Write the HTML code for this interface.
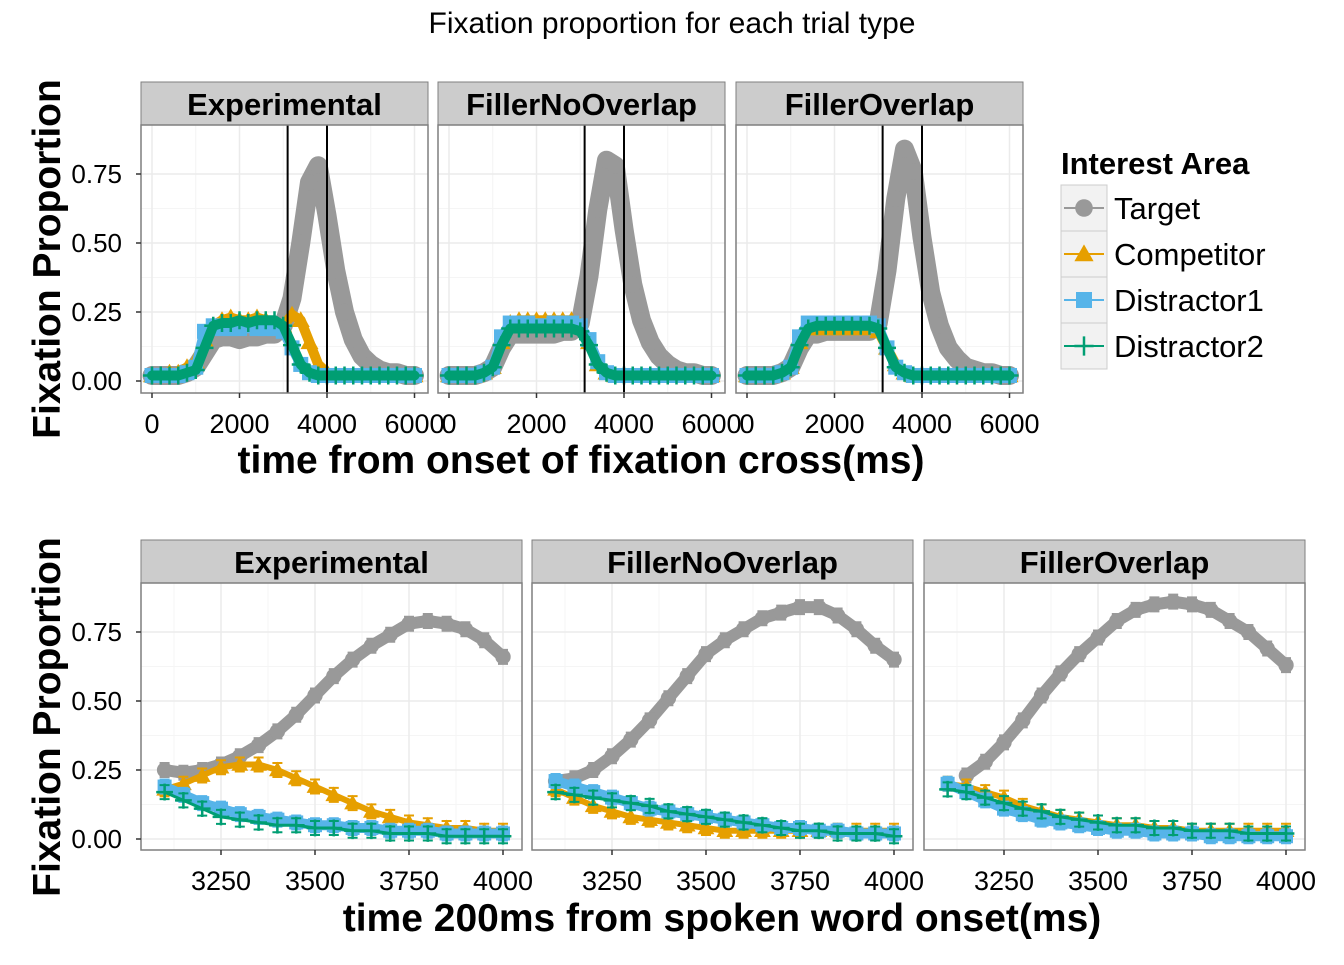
<!DOCTYPE html>
<html><head><meta charset="utf-8"><style>
body{margin:0;background:#fff;font-family:"Liberation Sans",Arial,sans-serif}
svg text{font-family:"Liberation Sans",Arial,sans-serif}
</style></head><body>
<svg id="c" width="1344" height="960" xmlns="http://www.w3.org/2000/svg">
<text x="672" y="33" text-anchor="middle" font-size="30">Fixation proportion for each trial type</text>
</svg>
<script>
const panels = ["Experimental","FillerNoOverlap","FillerOverlap"];
const series = ["Target","Competitor","Distractor1","Distractor2"];
const colors = ["#999999","#E69F00","#56B4E9","#009E73"];
// top row: times 0..6000 step 200
const topTimes = [0,200,400,600,800,1000,1200,1400,1600,1800,2000,2200,2400,2600,2800,3000,3200,3400,3600,3800,4000,4200,4400,4600,4800,5000,5200,5400,5600,5800,6000];
const topExpTarget = [0.02,0.02,0.02,0.02,0.03,0.05,0.10,0.15,0.16,0.16,0.15,0.16,0.16,0.17,0.17,0.20,0.30,0.50,0.72,0.78,0.60,0.40,0.25,0.15,0.09,0.06,0.04,0.03,0.03,0.02,0.02];
const topExpComp = [0.02,0.02,0.03,0.03,0.05,0.07,0.15,0.20,0.22,0.23,0.22,0.22,0.23,0.22,0.21,0.20,0.24,0.22,0.14,0.06,0.03,0.02,0.02,0.02,0.02,0.02,0.02,0.02,0.02,0.02,0.02];
const topExpD1 = [0.02,0.02,0.02,0.02,0.03,0.05,0.18,0.20,0.19,0.19,0.19,0.20,0.19,0.19,0.19,0.18,0.12,0.06,0.03,0.02,0.02,0.02,0.02,0.02,0.02,0.02,0.02,0.02,0.02,0.02,0.02];
const topExpD2 = [0.02,0.02,0.02,0.02,0.03,0.04,0.12,0.20,0.21,0.21,0.22,0.21,0.22,0.22,0.22,0.20,0.13,0.06,0.03,0.02,0.02,0.02,0.02,0.02,0.02,0.02,0.02,0.02,0.02,0.02,0.02];
const topFnoTarget = [0.02,0.02,0.02,0.02,0.03,0.05,0.12,0.17,0.17,0.17,0.17,0.17,0.17,0.18,0.18,0.21,0.38,0.62,0.80,0.78,0.55,0.35,0.22,0.14,0.09,0.06,0.04,0.03,0.03,0.02,0.02];
const topFnoComp = [0.02,0.02,0.02,0.02,0.03,0.05,0.14,0.21,0.22,0.22,0.22,0.22,0.22,0.22,0.22,0.20,0.14,0.06,0.03,0.02,0.02,0.02,0.02,0.02,0.02,0.02,0.02,0.02,0.02,0.02,0.02];
const topFnoD1 = [0.02,0.02,0.02,0.02,0.03,0.05,0.16,0.21,0.21,0.21,0.20,0.20,0.21,0.21,0.21,0.20,0.15,0.07,0.03,0.02,0.02,0.02,0.02,0.02,0.02,0.02,0.02,0.02,0.02,0.02,0.02];
const topFnoD2 = [0.02,0.02,0.02,0.02,0.03,0.05,0.13,0.19,0.19,0.19,0.19,0.19,0.19,0.19,0.19,0.18,0.13,0.06,0.03,0.02,0.02,0.02,0.02,0.02,0.02,0.02,0.02,0.02,0.02,0.02,0.02];
const topFoTarget = [0.02,0.02,0.02,0.02,0.03,0.05,0.12,0.17,0.17,0.18,0.18,0.18,0.18,0.18,0.18,0.21,0.40,0.66,0.84,0.76,0.52,0.32,0.20,0.12,0.08,0.05,0.04,0.03,0.03,0.02,0.02];
const topFoComp = [0.02,0.02,0.02,0.02,0.03,0.05,0.14,0.19,0.19,0.19,0.19,0.19,0.19,0.19,0.19,0.18,0.12,0.06,0.03,0.02,0.02,0.02,0.02,0.02,0.02,0.02,0.02,0.02,0.02,0.02,0.02];
const topFoD1 = [0.02,0.02,0.02,0.02,0.03,0.05,0.16,0.21,0.21,0.21,0.21,0.21,0.21,0.21,0.21,0.20,0.12,0.05,0.03,0.02,0.02,0.02,0.02,0.02,0.02,0.02,0.02,0.02,0.02,0.02,0.02];
const topFoD2 = [0.02,0.02,0.02,0.02,0.03,0.05,0.13,0.19,0.20,0.20,0.20,0.20,0.20,0.20,0.20,0.19,0.12,0.05,0.03,0.02,0.02,0.02,0.02,0.02,0.02,0.02,0.02,0.02,0.02,0.02,0.02];
// bottom row: times 3100..4000 step 50
const botTimes = [3100,3150,3200,3250,3300,3350,3400,3450,3500,3550,3600,3650,3700,3750,3800,3850,3900,3950,4000];
const botExpTarget = [0.25,0.24,0.25,0.27,0.30,0.34,0.39,0.45,0.52,0.59,0.65,0.70,0.74,0.78,0.79,0.78,0.76,0.72,0.66];
const botExpComp = [0.18,0.20,0.23,0.26,0.27,0.27,0.25,0.22,0.19,0.16,0.13,0.10,0.08,0.06,0.05,0.04,0.04,0.03,0.03];
const botExpD1 = [0.19,0.16,0.13,0.11,0.09,0.08,0.07,0.06,0.05,0.05,0.04,0.04,0.03,0.03,0.03,0.02,0.02,0.02,0.02];
const botExpD2 = [0.17,0.14,0.11,0.08,0.07,0.06,0.05,0.05,0.04,0.04,0.03,0.03,0.02,0.02,0.02,0.01,0.01,0.01,0.01];
const botFnoTarget = [0.21,0.22,0.25,0.30,0.36,0.43,0.51,0.59,0.67,0.72,0.76,0.80,0.82,0.84,0.84,0.81,0.76,0.70,0.65];
const botFnoComp = [0.18,0.15,0.12,0.10,0.08,0.07,0.06,0.05,0.04,0.03,0.03,0.03,0.03,0.03,0.03,0.03,0.03,0.03,0.03];
const botFnoD1 = [0.21,0.19,0.17,0.15,0.13,0.11,0.10,0.09,0.08,0.07,0.06,0.05,0.04,0.04,0.03,0.03,0.02,0.02,0.02];
const botFnoD2 = [0.17,0.16,0.15,0.14,0.13,0.12,0.10,0.09,0.08,0.07,0.06,0.05,0.04,0.03,0.03,0.02,0.02,0.02,0.01];
const botFoTarget = [null,0.23,0.28,0.35,0.43,0.52,0.60,0.67,0.73,0.79,0.83,0.85,0.86,0.85,0.83,0.79,0.75,0.69,0.63];
const botFoComp = [0.20,0.19,0.17,0.15,0.12,0.10,0.08,0.07,0.06,0.05,0.05,0.04,0.04,0.03,0.03,0.03,0.03,0.03,0.03];
const botFoD1 = [0.20,0.17,0.14,0.11,0.09,0.07,0.06,0.05,0.04,0.03,0.03,0.02,0.02,0.02,0.01,0.01,0.01,0.01,0.01];
const botFoD2 = [0.18,0.17,0.15,0.13,0.11,0.10,0.08,0.07,0.06,0.05,0.05,0.04,0.04,0.03,0.03,0.03,0.02,0.02,0.02];
const yTicks = [0,0.25,0.5,0.75];
const yTickLabels = ["0.00","0.25","0.50","0.75"];
const topXTicks = [0,2000,4000,6000];
const botXTicks = [3250,3500,3750,4000];
const vLines = [3100,4000];

const topData=[[topExpTarget,topExpComp,topExpD1,topExpD2],[topFnoTarget,topFnoComp,topFnoD1,topFnoD2],[topFoTarget,topFoComp,topFoD1,topFoD2]];
const botData=[[botExpTarget,botExpComp,botExpD1,botExpD2],[botFnoTarget,botFnoComp,botFnoD1,botFnoD2],[botFoTarget,botFoComp,botFoD1,botFoD2]];

const svg=document.getElementById('c');
const NS='http://www.w3.org/2000/svg';
function mk(tag,attrs,parent){const e=document.createElementNS(NS,tag);for(const k in attrs)e.setAttribute(k,attrs[k]);(parent||svg).appendChild(e);return e;}
function marker(g,s,x,y,sz,col){
  let e;
  if(s===0){e=mk('circle',{cx:x,cy:y,r:sz*0.55,fill:col},g);}
  else if(s===1){e=mk('polygon',{points:`${x},${y-sz*0.6} ${x-sz*0.6},${y+sz*0.45} ${x+sz*0.6},${y+sz*0.45}`,fill:col},g);}
  else if(s===2){e=mk('rect',{x:x-sz*0.5,y:y-sz*0.5,width:sz,height:sz,fill:col},g);}
  else {e=mk('path',{d:`M${x-sz*0.6},${y}H${x+sz*0.6}M${x},${y-sz*0.6}V${y+sz*0.6}`,stroke:col,'stroke-width':2.5},g);}
  
  
}

function drawRow(cfg){
  cfg.lefts.forEach((L,pi)=>{
    const W=cfg.w, T=cfg.top, B=cfg.bottom;
    const xs=t=>L+cfg.x0+(t-cfg.t0)*cfg.k;
    const ys=v=>cfg.y0-v*276;
    const strip=mk('rect',{x:L,y:T-43,width:W,height:43,fill:'#CCCCCC',stroke:'#7f7f7f','stroke-width':1});
    
    
    const st=mk('text',{x:L+W/2,y:T-10,'text-anchor':'middle','font-size':31,'font-weight':'bold'});
    st.textContent=panels[pi];
    
    
    const bg=mk('rect',{x:L,y:T,width:W,height:B-T,fill:'#fff'});
    
    
    const g=mk('g',{'clip-path':`url(#clip${cfg.id}${pi})`});
    const cp=mk('clipPath',{id:`clip${cfg.id}${pi}`});mk('rect',{x:L,y:T,width:W,height:B-T},cp);
    for(let i=0;i<yTicks.length-1;i++){const v=(yTicks[i]+yTicks[i+1])/2;mk('line',{x1:L,x2:L+W,y1:ys(v),y2:ys(v),stroke:'#f5f5f5','stroke-width':1},g);}
    mk('line',{x1:L,x2:L+W,y1:ys(-0.125),y2:ys(-0.125),stroke:'#f5f5f5'},g);
    for(let i=0;i<cfg.xt.length;i++){const d=cfg.xt[1]-cfg.xt[0];const t=cfg.xt[i]-d/2;mk('line',{x1:xs(t),x2:xs(t),y1:T,y2:B,stroke:'#f5f5f5'},g);mk('line',{x1:xs(cfg.xt[i]+d/2),x2:xs(cfg.xt[i]+d/2),y1:T,y2:B,stroke:'#f5f5f5'},g);}
    yTicks.forEach(v=>{const l=mk('line',{x1:L,x2:L+W,y1:ys(v),y2:ys(v),stroke:'#ebebeb','stroke-width':1.5},g);});
    cfg.xt.forEach(t=>{const l=mk('line',{x1:xs(t),x2:xs(t),y1:T,y2:B,stroke:'#ebebeb','stroke-width':1.5},g);});
    const data=cfg.data[pi];
    data.forEach((arr,si)=>{
      let pts=[];
      arr.forEach((v,i)=>{if(v!==null)pts.push([xs(cfg.times[i]),ys(v)]);});
      const pl=mk('polyline',{points:pts.map(p=>p.join(',')).join(' '),fill:'none',stroke:colors[si],'stroke-width':cfg.lw[si],'stroke-linejoin':'round','stroke-linecap':'round'},g);
      
      
      arr.forEach((v,i)=>{
        if(v===null)return;
        const x=xs(cfg.times[i]),y=ys(v);
        if(cfg.err){mk('path',{d:`M${x-5},${y-7}H${x+5}M${x},${y-7}V${y+7}M${x-5},${y+7}H${x+5}`,stroke:colors[si],'stroke-width':2,fill:'none'},g);}
        marker(g,si,x,y,cfg.ms,colors[si]);
      });
    });
    if(cfg.vl){vLines.forEach(t=>{const l=mk('line',{x1:xs(t),x2:xs(t),y1:T,y2:B,stroke:'#000','stroke-width':2},g);});}
    const fr=mk('rect',{x:L,y:T,width:W,height:B-T,fill:'none',stroke:'#7f7f7f','stroke-width':1.5});
    
    cfg.xt.forEach(t=>{
      mk('line',{x1:xs(t),x2:xs(t),y1:B,y2:B+5,stroke:'#333','stroke-width':1.5});
      const tx=mk('text',{x:xs(t),y:B+40,'text-anchor':'middle','font-size':27});
      tx.textContent=String(t);
      
      
    });
    if(pi===0){
      yTicks.forEach((v,i)=>{
        mk('line',{x1:L-5,x2:L,y1:ys(v),y2:ys(v),stroke:'#333','stroke-width':1.5});
        const tx=mk('text',{x:L-19,y:ys(v)+9,'text-anchor':'end','font-size':26});
        tx.textContent=yTickLabels[i];
        
        
      });
    }
  });
  const yt=mk('text',{x:0,y:0,transform:`translate(60,${cfg.ymid}) rotate(-90)`,'text-anchor':'middle','font-size':39,'font-weight':'bold'});
  yt.textContent='Fixation Proportion';
  
  
  const xt=mk('text',{x:cfg.xmid,y:cfg.xty,'text-anchor':'middle','font-size':39,'font-weight':'bold'});
  xt.textContent=cfg.xtitle;
  
  
}

drawRow({id:'t',lefts:[141,438,736],w:287,top:125,bottom:393,x0:11,t0:0,k:0.04375,y0:381,xt:topXTicks,times:topTimes,data:topData,lw:[19,10,10,10],ms:15,vl:true,err:false,ymid:259,xmid:581,xty:473,xtitle:'time from onset of fixation cross(ms)'});
drawRow({id:'b',lefts:[141,532,924],w:381,top:583,bottom:850,x0:80,t0:3250,k:0.376,y0:839,xt:botXTicks,times:botTimes,data:botData,lw:[12,6,10,3],ms:14,vl:false,err:true,ymid:717,xmid:722,xty:931,xtitle:'time 200ms from spoken word onset(ms)'});

const lt=mk('text',{x:1061,y:174,'font-size':31,'font-weight':'bold'});
lt.textContent='Interest Area';


series.forEach((s,i)=>{
  const y=185+i*46;
  const g=mk('g',{});
  
  
  mk('rect',{x:1061,y:y,width:46,height:46,fill:'#f2f2f2',stroke:'#cccccc'},g);
  mk('line',{x1:1064,x2:1104,y1:y+23,y2:y+23,stroke:colors[i],'stroke-width':2},g);
  marker(g,i,1084,y+23,16,colors[i]);
  const t=mk('text',{x:1114,y:y+34,'font-size':31},g);
  t.textContent=s;
});
</script>
</body></html>
